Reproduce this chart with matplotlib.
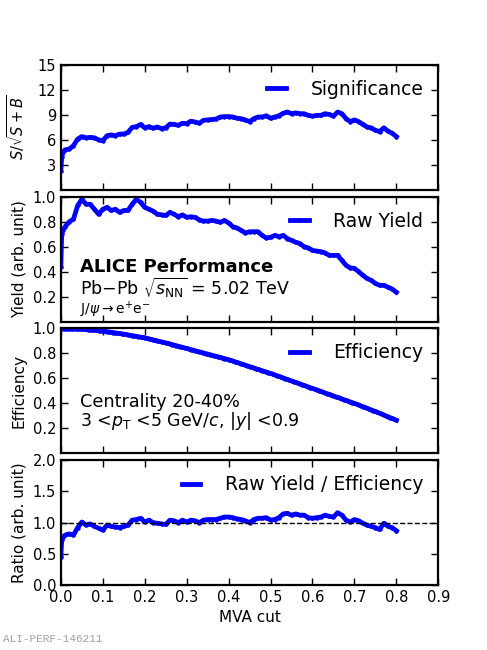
import numpy as np
import matplotlib
matplotlib.use('Agg')
import matplotlib.pyplot as plt

# MVA cut values (0.00 .. 0.80), plus a few early points
mva_cut = [0.0, 0.002, 0.005] + [round(0.01 * i, 2) for i in range(1, 81)]

significance = [2.3, 3.9, 4.5, 4.8, 4.9, 5.3, 6.1, 6.4, 6.25, 6.3, 6.25, 6.0, 5.9,
                6.5, 6.6, 6.5, 6.7, 6.7, 6.9, 7.5, 7.6, 7.85, 7.45, 7.6, 7.4,
                7.55, 7.35, 7.45, 7.9, 7.85, 7.75, 8.0, 7.95, 8.25, 8.15, 8.0,
                8.35, 8.4, 8.45, 8.5, 8.75, 8.8, 8.8, 8.75, 8.6, 8.55, 8.4, 8.2,
                8.55, 8.75, 8.75, 8.9, 8.6, 8.75, 8.9, 9.2, 9.35, 9.15, 9.25,
                9.15, 9.15, 8.95, 8.85, 8.95, 8.95, 9.15, 9.05, 8.85, 9.35, 9.15,
                8.55, 8.2, 8.4, 8.2, 7.85, 7.55, 7.45, 7.15, 7.0, 7.45, 7.05,
                6.8, 6.4]

raw_yield = [0.44, 0.70, 0.73, 0.76, 0.80, 0.82, 0.93, 0.98, 0.94, 0.94, 0.90,
             0.86, 0.90, 0.915, 0.89, 0.90, 0.875, 0.89, 0.89, 0.94, 0.98,
             0.955, 0.915, 0.90, 0.885, 0.86, 0.855, 0.85, 0.875, 0.86, 0.84,
             0.855, 0.835, 0.84, 0.835, 0.815, 0.805, 0.805, 0.81, 0.805, 0.795,
             0.81, 0.79, 0.76, 0.75, 0.73, 0.71, 0.72, 0.72, 0.72, 0.69, 0.67,
             0.675, 0.69, 0.68, 0.69, 0.665, 0.65, 0.635, 0.625, 0.60, 0.59,
             0.57, 0.565, 0.56, 0.55, 0.53, 0.53, 0.53, 0.49, 0.45, 0.43, 0.425,
             0.40, 0.37, 0.345, 0.33, 0.305, 0.29, 0.29, 0.275, 0.26, 0.235]

eff_cut = [0.0, 0.05, 0.1, 0.15, 0.2, 0.25, 0.3, 0.35, 0.4, 0.45, 0.5, 0.55,
           0.6, 0.65, 0.7, 0.75, 0.8]
efficiency = [1.0, 0.995, 0.98, 0.955, 0.925, 0.885, 0.84, 0.795, 0.75, 0.695,
              0.64, 0.58, 0.52, 0.46, 0.40, 0.335, 0.265]

ratio = [0.45, 0.72, 0.77, 0.80, 0.82, 0.80, 0.92, 1.01, 0.96, 0.98, 0.94, 0.91,
         0.88, 0.96, 0.94, 0.93, 0.92, 0.94, 0.96, 1.04, 1.05, 1.07, 1.01, 1.04,
         1.0, 0.99, 0.98, 0.97, 1.04, 1.03, 1.0, 1.04, 1.01, 1.04, 1.03, 1.0,
         1.04, 1.05, 1.05, 1.05, 1.07, 1.09, 1.09, 1.08, 1.06, 1.05, 1.03, 1.0,
         1.05, 1.07, 1.07, 1.08, 1.04, 1.05, 1.08, 1.14, 1.15, 1.12, 1.14, 1.12,
         1.12, 1.08, 1.07, 1.08, 1.09, 1.12, 1.10, 1.09, 1.16, 1.12, 1.04, 1.01,
         1.05, 1.03, 0.99, 0.96, 0.94, 0.92, 0.89, 0.99, 0.94, 0.92, 0.87]

# dense x grid for the smooth efficiency curve
eff_x = np.linspace(0, 0.8, 161)
eff_y = np.interp(eff_x, eff_cut, efficiency)

fig, axes = plt.subplots(4, 1, figsize=(4.87, 6.5), dpi=100, sharex=True)
plt.subplots_adjust(left=0.125, right=0.9, top=0.9, bottom=0.1, hspace=0.056)

blue = '#0000ff'
style = dict(color=blue, lw=3.4, marker='o', ms=2.2, mec=blue)

axes[0].plot(mva_cut, significance, label='Significance', **style)
axes[1].plot(mva_cut, raw_yield, label='Raw Yield', **style)
axes[2].plot(eff_x, eff_y, label='Efficiency', **style)
axes[3].plot(mva_cut, ratio, label='Raw Yield / Efficiency', **style)
axes[3].axhline(1.0, color='k', ls='--', lw=1)

axes[0].set_ylim(0, 15)
axes[0].set_yticks([3, 6, 9, 12, 15])
axes[1].set_ylim(0, 1.0)
axes[1].set_yticks([0.2, 0.4, 0.6, 0.8, 1.0])
axes[2].set_ylim(0, 1.0)
axes[2].set_yticks([0.2, 0.4, 0.6, 0.8, 1.0])
axes[3].set_ylim(0, 2.0)
axes[3].set_yticks([0.0, 0.5, 1.0, 1.5, 2.0])
axes[3].set_xlim(0, 0.9)
axes[3].set_xticks(np.arange(0, 0.91, 0.1))

axes[0].set_ylabel(r'$S/\sqrt{S+B}$', fontsize=10.5)
axes[1].set_ylabel('Yield (arb. unit)', fontsize=11)
axes[2].set_ylabel('Efficiency', fontsize=11)
axes[3].set_ylabel('Ratio (arb. unit)', fontsize=11)
axes[3].set_xlabel('MVA cut', fontsize=11)

fmt = matplotlib.ticker.FormatStrFormatter
for ax in axes:
    ax.tick_params(direction='in', top=True, right=True, labelsize=10.5,
                   length=5, width=1)
    for sp in ax.spines.values():
        sp.set_linewidth(1.6)
    ax.yaxis.set_label_coords(-0.09, 0.5)
    ax.legend(loc='upper right', frameon=False, fontsize=13.5, handlelength=1.6,
              handletextpad=1.0, borderaxespad=0.4, numpoints=6)

axes[0].yaxis.set_major_formatter(fmt('%g'))
axes[1].yaxis.set_major_formatter(fmt('%.1f'))
axes[2].yaxis.set_major_formatter(fmt('%.1f'))
axes[3].yaxis.set_major_formatter(fmt('%.1f'))
axes[3].xaxis.set_major_formatter(fmt('%.1f'))

axes[1].text(0.05, 0.40, 'ALICE Performance', transform=axes[1].transAxes,
             fontsize=13, fontweight='bold')
axes[1].text(0.05, 0.215, r'Pb$-$Pb $\sqrt{s_{\rm NN}}$ = 5.02 TeV',
             transform=axes[1].transAxes, fontsize=12.5)
axes[1].text(0.05, 0.06, r'J/$\psi\rightarrow$e$^{+}$e$^{-}$',
             transform=axes[1].transAxes, fontsize=10)

axes[2].text(0.05, 0.37, 'Centrality 20-40%', transform=axes[2].transAxes,
             fontsize=12.7)
axes[2].text(0.05, 0.22, r'3 <$p_{\rm T}$ <5 GeV/$c$, |$y$| <0.9',
             transform=axes[2].transAxes, fontsize=12.5)

fig.text(0.006, 0.013, 'ALI-PERF-146211', fontsize=8, color='#a0a0a0',
         family='Liberation Mono')

fig.savefig('out.png', dpi=100)
